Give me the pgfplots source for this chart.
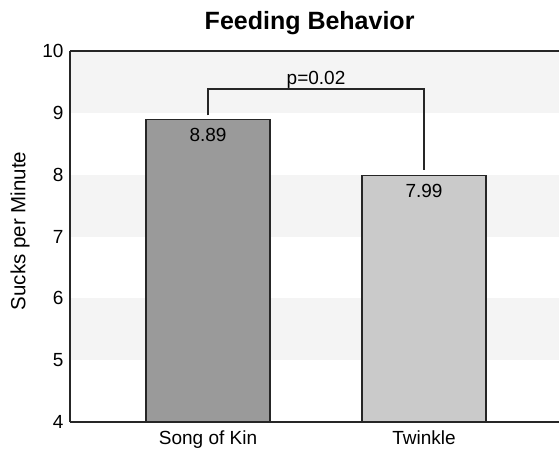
\documentclass[border=0pt]{standalone}
\usepackage{pgfplots}
\pgfplotsset{compat=1.18}
\usepackage{fontspec}
\setmainfont{Liberation Sans}
\definecolor{bandgray}{HTML}{F4F4F4}
\definecolor{bardark}{HTML}{9A9A9A}
\definecolor{barlight}{HTML}{CACACA}
\definecolor{linecol}{HTML}{262626}
\begin{document}
\begin{tikzpicture}
\begin{axis}[
    set layers,
    scale only axis,
    width=489pt, height=371pt,
    xmin=-0.639, xmax=1.625,
    ymin=4, ymax=10,
    ytick={4,5,6,7,8,9,10},
    xtick={0,1},
    xticklabels={Song of Kin,Twinkle},
    axis x line*=bottom,
    axis y line*=left,
    axis line style={-, linecol, line width=1.6pt},
    major tick length=0pt,
    tick label style={font=\fontsize{19}{22}\selectfont},
    /pgf/number format/assume math mode=true,
    yticklabel style={xshift=-3pt},
    xticklabel style={yshift=-5pt},
    ylabel={Sucks per Minute},
    ylabel style={at={(axis description cs:-0.102,0.515)}, anchor=center, font=\fontsize{20.5}{24}\selectfont},
    title={\textbf{Feeding Behavior}},
    title style={at={(axis description cs:0.49,1)}, anchor=base, yshift=15pt, font=\fontsize{25}{29}\selectfont},
]
\begin{pgfonlayer}{axis background}
  \fill[bandgray] (rel axis cs:0,0.8333) rectangle (rel axis cs:1,1);
  \fill[bandgray] (rel axis cs:0,0.5) rectangle (rel axis cs:1,0.6667);
  \fill[bandgray] (rel axis cs:0,0.1667) rectangle (rel axis cs:1,0.3333);
\end{pgfonlayer}

\addplot[ybar, bar width=0.574, bar shift=0pt, fill=bardark, draw=linecol, line width=1.4pt,
    nodes near coords, nodes near coords style={anchor=north, yshift=-5pt, text=black,
      font=\fontsize{19}{22}\selectfont, /pgf/number format/.cd, fixed, fixed zerofill, precision=2}]
  coordinates {(0,8.89)};
\addplot[ybar, bar width=0.574, bar shift=0pt, fill=barlight, draw=linecol, line width=1.4pt,
    nodes near coords, nodes near coords style={anchor=north, yshift=-5pt, text=black,
      font=\fontsize{19}{22}\selectfont, /pgf/number format/.cd, fixed, fixed zerofill, precision=2}]
  coordinates {(1,7.99)};

% significance bracket
\addplot[linecol, line width=1.2pt, mark=none, sharp plot]
  coordinates {(0,8.96) (0,9.385) (1,9.385) (1,8.07)};
\node[anchor=south, inner sep=1pt, yshift=-1pt, font=\fontsize{19}{22}\selectfont] at (axis cs:0.5,9.385) {p=0.02};

\draw[linecol, line width=1.6pt] (rel axis cs:0,1) -- (rel axis cs:1,1);
\end{axis}
\pgfresetboundingbox
\path[use as bounding box] (-70pt,-26pt) rectangle (489pt,422pt);
\end{tikzpicture}
\end{document}
